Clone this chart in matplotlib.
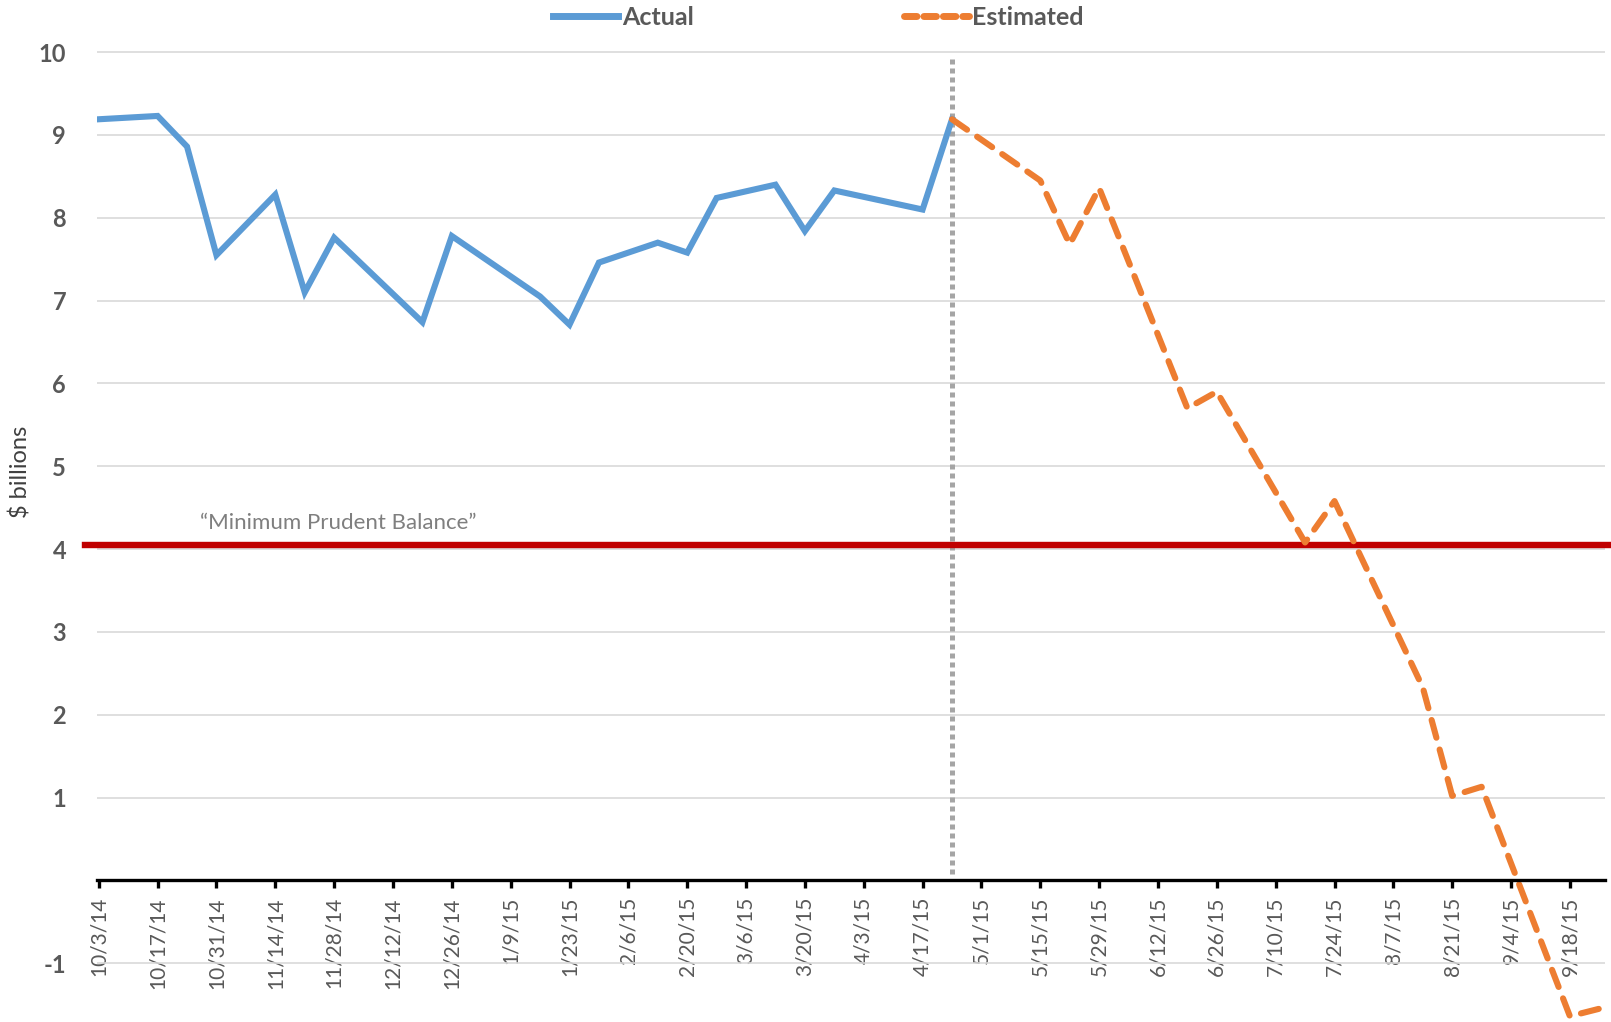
import numpy as np
import pandas as pd
import matplotlib
matplotlib.use('Agg')
import matplotlib.pyplot as plt
import matplotlib.dates as mdates
from matplotlib.lines import Line2D

plt.rcParams['font.family'] = ['Lato', 'DejaVu Sans']
plt.rcParams['axes.unicode_minus'] = False

# Weekly balances ($ billions), only the vertices of each line
actual_dates = ['2014-10-03', '2014-10-17', '2014-10-24', '2014-10-31', '2014-11-14',
                '2014-11-21', '2014-11-28', '2014-12-19', '2014-12-26', '2015-01-16',
                '2015-01-23', '2015-01-30', '2015-02-13', '2015-02-20', '2015-02-27',
                '2015-03-13', '2015-03-20', '2015-03-27', '2015-04-17', '2015-04-24']
actual_vals = [9.19, 9.23, 8.86, 7.55, 8.28, 7.10, 7.76, 6.74, 7.78, 7.05,
               6.71, 7.46, 7.70, 7.58, 8.24, 8.40, 7.84, 8.33, 8.10, 9.19]

est_dates = ['2015-04-24', '2015-05-15', '2015-05-22', '2015-05-29', '2015-06-19',
             '2015-06-26', '2015-07-17', '2015-07-24', '2015-08-14', '2015-08-21',
             '2015-08-28', '2015-09-18', '2015-09-25']
est_vals = [9.19, 8.45, 7.68, 8.36, 5.70, 5.90, 4.08, 4.58, 2.33, 1.02,
            1.13, -1.64, -1.55]

min_balance = 4.05
cutoff_date = '2015-04-24'
tick_dates = pd.date_range('2014-10-03', '2015-09-18', freq='14D')
y_ticks = [-1, 1, 2, 3, 4, 5, 6, 7, 8, 9, 10]

actual_x = pd.to_datetime(actual_dates)
est_x = pd.to_datetime(est_dates)

fig = plt.figure(figsize=(16.11, 10.22), dpi=100)
ax = fig.add_axes([0.06, 0.0, 0.936, 1.0])

ax.set_xlim(pd.Timestamp('2014-10-02 12:00'), pd.Timestamp('2015-09-26 06:00'))
ax.set_ylim(-1.71, 10.63)

ax.set_yticks(y_ticks)
ax.yaxis.grid(True, color='#d9d9d9', linewidth=1.2)
ax.set_axisbelow(True)
ax.tick_params(axis='y', length=0, pad=22, labelsize=17, labelcolor='#595959')
for lbl in ax.get_yticklabels():
    lbl.set_fontweight('bold')

ax.spines['bottom'].set_position(('data', 0))
ax.spines['bottom'].set_linewidth(2.4)
ax.spines['bottom'].set_zorder(5)
for s in ['top', 'right', 'left']:
    ax.spines[s].set_visible(False)

ax.set_xticks(tick_dates)
ax.xaxis.set_major_formatter(mdates.DateFormatter('%-m/%-d/%y'))
ax.tick_params(axis='x', direction='out', length=6, width=2.4, pad=6,
               labelsize=15, labelcolor='#595959', labelrotation=90)

ax.set_ylabel('$ billions', fontsize=17, color='#404040')
ax.yaxis.set_label_coords(-0.043, 0.538)

# minimum prudent balance line
ax.axhline(min_balance, xmin=-0.008, xmax=1.01, color='#c00000', linewidth=4.6,
           clip_on=False, zorder=3)
ax.text(pd.Timestamp('2014-10-27'), min_balance + 0.27, '\u201cMinimum Prudent Balance\u201d',
        fontsize=16, color='#7f7f7f', va='center', ha='left')

# actual / estimated split
ax.plot([pd.Timestamp(cutoff_date)] * 2, [0.08, 9.95], color='#a5a5a5', linewidth=3.6,
        linestyle=(0, (1, 0.8)), zorder=2)

ax.plot(actual_x, actual_vals, color='#5b9bd5', linewidth=4.4, zorder=4,
        solid_joinstyle='miter')
ax.plot(est_x, est_vals, color='#ed7d31', linewidth=4.4, linestyle=(0, (3.0, 2.0)),
        dash_capstyle='round', zorder=4)

handles = [Line2D([], [], color='#5b9bd5', linewidth=5),
           Line2D([], [], color='#ed7d31', linewidth=5, linestyle=(0, (1.8, 1.0)),
                  dash_capstyle='round')]
leg = fig.legend(handles, ['Actual', 'Estimated'], loc='center', ncol=2,
                 bbox_to_anchor=(0.508, 0.983), frameon=False, fontsize=18,
                 handlelength=2.6, handletextpad=0.15, columnspacing=8.4)
for t in leg.get_texts():
    t.set_color('#595959')
    t.set_fontweight('bold')

fig.savefig('out.png', dpi=100)
